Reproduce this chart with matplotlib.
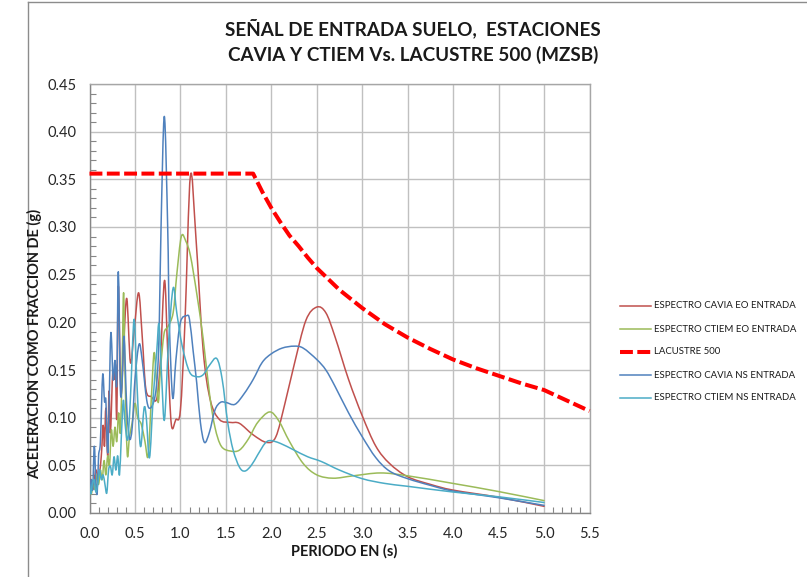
import matplotlib
matplotlib.use("Agg")
import matplotlib.pyplot as plt
import numpy as np
from matplotlib.path import Path
from matplotlib.patches import PathPatch
from matplotlib.lines import Line2D
from matplotlib.ticker import MultipleLocator

plt.rcParams['font.family'] = ['Lato', 'DejaVu Sans']

# ---- data: spectral acceleration (g) vs period (s) ----
cavia_eo_t = [0.00, 0.02, 0.04, 0.07, 0.10, 0.13, 0.15, 0.165, 0.18, 0.20, 0.215, 0.23,
              0.255, 0.27, 0.285, 0.30, 0.317, 0.345, 0.375, 0.41, 0.45, 0.49, 0.54,
              0.58, 0.62, 0.68, 0.74, 0.78, 0.825, 0.86, 0.90, 0.95, 1.00, 1.05, 1.11,
              1.17, 1.25, 1.33, 1.43, 1.55, 1.65, 1.80, 1.95, 2.05, 2.15, 2.25, 2.38,
              2.50, 2.60, 2.70, 2.85, 3.00, 3.15, 3.30, 3.50, 3.75, 4.00, 4.50, 5.00]
cavia_eo_sa = [0.030, 0.035, 0.025, 0.045, 0.035, 0.060, 0.092, 0.070, 0.110, 0.060, 0.128, 0.084,
               0.147, 0.140, 0.155, 0.100, 0.238, 0.126, 0.175, 0.225, 0.158, 0.190, 0.231,
               0.185, 0.130, 0.122, 0.120, 0.160, 0.244, 0.170, 0.093, 0.098, 0.108, 0.200, 0.354,
               0.290, 0.171, 0.118, 0.098, 0.095, 0.094, 0.082, 0.074, 0.080, 0.115, 0.155, 0.202,
               0.216, 0.210, 0.185, 0.140, 0.102, 0.070, 0.052, 0.038, 0.030, 0.024, 0.0165, 0.007]

ctiem_eo_t = [0.00, 0.02, 0.04, 0.06, 0.08, 0.10, 0.12, 0.14, 0.16, 0.18, 0.20, 0.22, 0.24,
              0.26, 0.28, 0.30, 0.32, 0.34, 0.36, 0.375, 0.39, 0.415, 0.44, 0.47, 0.50, 0.53,
              0.57, 0.61, 0.645, 0.68, 0.71, 0.735, 0.757, 0.78, 0.82, 0.86, 0.92, 0.96, 1.01,
              1.06, 1.11, 1.18, 1.25, 1.32, 1.38, 1.45, 1.55, 1.65, 1.75, 1.85, 1.98, 2.08,
              2.20, 2.35, 2.50, 2.68, 2.90, 3.20, 3.50, 4.00, 4.50, 5.00]
ctiem_eo_sa = [0.025, 0.020, 0.030, 0.025, 0.040, 0.030, 0.045, 0.035, 0.055, 0.040, 0.060, 0.050, 0.087,
               0.070, 0.090, 0.075, 0.105, 0.085, 0.160, 0.231, 0.150, 0.062, 0.080, 0.095, 0.115, 0.100,
               0.093, 0.075, 0.060, 0.120, 0.168, 0.140, 0.116, 0.150, 0.188, 0.195, 0.210, 0.250, 0.290,
               0.285, 0.270, 0.230, 0.183, 0.125, 0.090, 0.070, 0.065, 0.066, 0.078, 0.095, 0.106, 0.097,
               0.075, 0.052, 0.040, 0.0365, 0.039, 0.042, 0.039, 0.031, 0.0225, 0.013]

lacustre_t = [0.0, 1.8, 1.9, 2.0, 2.1, 2.2, 2.3, 2.4, 2.5, 2.75, 3.0, 3.25, 3.5, 3.75,
              4.0, 4.25, 4.5, 4.75, 5.0, 5.25, 5.5]
lacustre_sa = [0.356, 0.356, 0.337, 0.320, 0.305, 0.291, 0.280, 0.268, 0.257, 0.234, 0.215,
               0.198, 0.184, 0.172, 0.161, 0.152, 0.144, 0.136, 0.129, 0.118, 0.107]

cavia_ns_t = [0.00, 0.02, 0.035, 0.053, 0.07, 0.085, 0.10, 0.12, 0.145, 0.165, 0.18, 0.20,
              0.215, 0.235, 0.26, 0.28, 0.30, 0.317, 0.34, 0.36, 0.38, 0.41, 0.44, 0.47,
              0.50, 0.545, 0.58, 0.63, 0.67, 0.72, 0.75, 0.768, 0.787, 0.823, 0.86, 0.878,
              0.915, 0.95, 1.00, 1.07, 1.10, 1.14, 1.18, 1.22, 1.265, 1.32, 1.38, 1.44,
              1.50, 1.60, 1.70, 1.80, 1.90, 2.00, 2.12, 2.25, 2.35, 2.50, 2.60, 2.70,
              2.85, 3.00, 3.15, 3.30, 3.50, 3.75, 4.00, 4.50, 5.00]
cavia_ns_sa = [0.020, 0.035, 0.025, 0.070, 0.030, 0.021, 0.060, 0.075, 0.145, 0.117, 0.118, 0.063,
               0.110, 0.189, 0.140, 0.160, 0.136, 0.253, 0.129, 0.140, 0.185, 0.110, 0.078, 0.090,
               0.140, 0.177, 0.160, 0.118, 0.110, 0.122, 0.150, 0.200, 0.300, 0.416, 0.300, 0.200,
               0.121, 0.160, 0.200, 0.207, 0.203, 0.170, 0.136, 0.095, 0.074, 0.085, 0.108, 0.116,
               0.116, 0.114, 0.125, 0.140, 0.158, 0.167, 0.173, 0.175, 0.173, 0.161, 0.150, 0.133,
               0.105, 0.080, 0.058, 0.044, 0.036, 0.029, 0.023, 0.016, 0.008]

ctiem_ns_t = [0.00, 0.015, 0.03, 0.05, 0.07, 0.09, 0.11, 0.13, 0.15, 0.17, 0.19, 0.21, 0.23,
              0.25, 0.27, 0.29, 0.31, 0.33, 0.35, 0.372, 0.39, 0.42, 0.45, 0.49, 0.52, 0.56,
              0.60, 0.625, 0.66, 0.70, 0.74, 0.765, 0.795, 0.825, 0.87, 0.92, 0.96, 1.02,
              1.10, 1.18, 1.25, 1.32, 1.40, 1.46, 1.52, 1.58, 1.65, 1.71, 1.78, 1.85, 1.93,
              1.99, 2.10, 2.25, 2.40, 2.55, 2.75, 3.00, 3.25, 3.50, 4.00, 4.50, 5.00]
ctiem_ns_sa = [0.030, 0.020, 0.030, 0.035, 0.022, 0.030, 0.045, 0.035, 0.040, 0.030, 0.021, 0.045, 0.049,
               0.040, 0.059, 0.045, 0.060, 0.040, 0.080, 0.118, 0.095, 0.077, 0.120, 0.203, 0.140, 0.070,
               0.110, 0.100, 0.058, 0.120, 0.170, 0.198, 0.140, 0.098, 0.180, 0.236, 0.210, 0.175,
               0.148, 0.143, 0.145, 0.155, 0.162, 0.140, 0.095, 0.066, 0.048, 0.044, 0.050, 0.061, 0.073,
               0.076, 0.073, 0.066, 0.059, 0.054, 0.045, 0.036, 0.031, 0.028, 0.022, 0.017, 0.011]

labels = ["ESPECTRO CAVIA EO ENTRADA", "ESPECTRO CTIEM EO ENTRADA", "LACUSTRE 500",
          "ESPECTRO CAVIA NS ENTRADA", "ESPECTRO CTIEM NS ENTRADA"]
x_ticks = [0.0, 0.5, 1.0, 1.5, 2.0, 2.5, 3.0, 3.5, 4.0, 4.5, 5.0, 5.5]
y_ticks = [0.00, 0.05, 0.10, 0.15, 0.20, 0.25, 0.30, 0.35, 0.40, 0.45]

C_RED = "#C0504D"
C_GREEN = "#9BBB59"
C_BLUE = "#4F81BD"
C_CYAN = "#4BACC6"
C_LAC = "#FF0000"


def smooth_path(xs, ys):
    """Cubic Bezier path through the points (Catmull-Rom style smoothing)."""
    p = np.column_stack([xs, ys]).astype(float)
    n = len(p)
    verts = [p[0]]
    codes = [Path.MOVETO]
    for i in range(n - 1):
        p0 = p[i - 1] if i > 0 else p[i]
        p1 = p[i]
        p2 = p[i + 1]
        p3 = p[i + 2] if i + 2 < n else p[i + 1]
        c1 = p1 + (p2 - p0) / 6.0
        c2 = p2 - (p3 - p1) / 6.0
        verts += [c1, c2, p2]
        codes += [Path.CURVE4] * 3
    return Path(verts, codes)


fig = plt.figure(figsize=(8.07, 5.77), dpi=100)
ax = fig.add_axes([89.5 / 807, 64 / 577, 500 / 807, 429 / 577])

series = [
    (cavia_eo_t, cavia_eo_sa, C_RED),
    (ctiem_eo_t, ctiem_eo_sa, C_GREEN),
    (cavia_ns_t, cavia_ns_sa, C_BLUE),
    (ctiem_ns_t, ctiem_ns_sa, C_CYAN),
]
for t, sa, col in series:
    ax.add_patch(PathPatch(smooth_path(t, sa), fill=False, edgecolor=col,
                           lw=1.1, zorder=3, capstyle='round', joinstyle='round'))

ax.plot(lacustre_t, lacustre_sa, color=C_LAC, lw=2.9, linestyle=(0, (3.2, 1.1)),
        dash_capstyle='butt', zorder=4, clip_on=False)

ax.set_xlim(0, 5.5)
ax.set_ylim(0, 0.45)
ax.set_xticks(x_ticks)
ax.set_yticks(y_ticks)
ax.set_xticklabels([f"{v:.1f}" for v in x_ticks])
ax.set_yticklabels([f"{v:.2f}" for v in y_ticks])
ax.xaxis.set_minor_locator(MultipleLocator(0.1))
ax.yaxis.set_minor_locator(MultipleLocator(0.01))
ax.grid(True, which='major', color="#C0C0C0", lw=1.0, zorder=0)
ax.set_axisbelow(True)
ax.tick_params(which='both', direction='in', color="#868686", labelsize=10.5,
               labelcolor="#262626")
ax.tick_params(which='major', length=0, pad=9)
ax.tick_params(which='minor', length=4, width=0.8)
ax.tick_params(axis='x', which='major', pad=10)
for s in ax.spines.values():
    s.set_color("#A6A6A6")
    s.set_linewidth(1.0)
ax.spines['left'].set_color("#868686")
ax.spines['bottom'].set_color("#868686")

# titles and axis labels
fig.text(413 / 807, 1 - 28 / 577, "SEÑAL DE ENTRADA SUELO,  ESTACIONES", ha='center', va='center',
         fontsize=13.6, fontweight='bold', color="#1A1A1A")
fig.text(413 / 807, 1 - 55 / 577, "CAVIA Y CTIEM Vs. LACUSTRE 500 (MZSB)", ha='center', va='center',
         fontsize=13.6, fontweight='bold', color="#1A1A1A")
fig.text(35 / 807, 1 - 344 / 577, "ACELERACION COMO FRACCION DE (g)", rotation=90, ha='center',
         va='center', fontsize=10.5, fontweight='bold', color="#1A1A1A")
fig.text(344 / 807, 1 - 551 / 577, "PERIODO EN (s)", ha='center', va='center',
         fontsize=10.5, fontweight='bold', color="#1A1A1A")

# legend drawn at fixed positions on the right
leg_styles = [
    dict(color=C_RED, lw=1.1, ls='-'),
    dict(color=C_GREEN, lw=1.1, ls='-'),
    dict(color=C_LAC, lw=2.9, ls=(0, (3.2, 1.1))),
    dict(color=C_BLUE, lw=1.1, ls='-'),
    dict(color=C_CYAN, lw=1.1, ls='-'),
]
row_y = [306, 329, 352, 375, 398]
for lab, st, yy in zip(labels, leg_styles, row_y):
    fy = 1 - yy / 577
    fig.add_artist(Line2D([620 / 807, 651 / 807], [fy, fy], transform=fig.transFigure,
                          color=st['color'], lw=st['lw'], linestyle=st['ls'],
                          dash_capstyle='butt'))
    fig.text(654 / 807, fy, lab, ha='left', va='center', fontsize=6.9, color="#1A1A1A")

# chart-area frame
fig.add_artist(Line2D([28 / 807, 28 / 807], [0, 1 - 2 / 577], transform=fig.transFigure,
                      color="#8C8C8C", lw=1.0))
fig.add_artist(Line2D([28 / 807, 1], [1 - 2 / 577, 1 - 2 / 577], transform=fig.transFigure,
                      color="#8C8C8C", lw=1.0))

fig.savefig("out.png", dpi=100, facecolor="white")
